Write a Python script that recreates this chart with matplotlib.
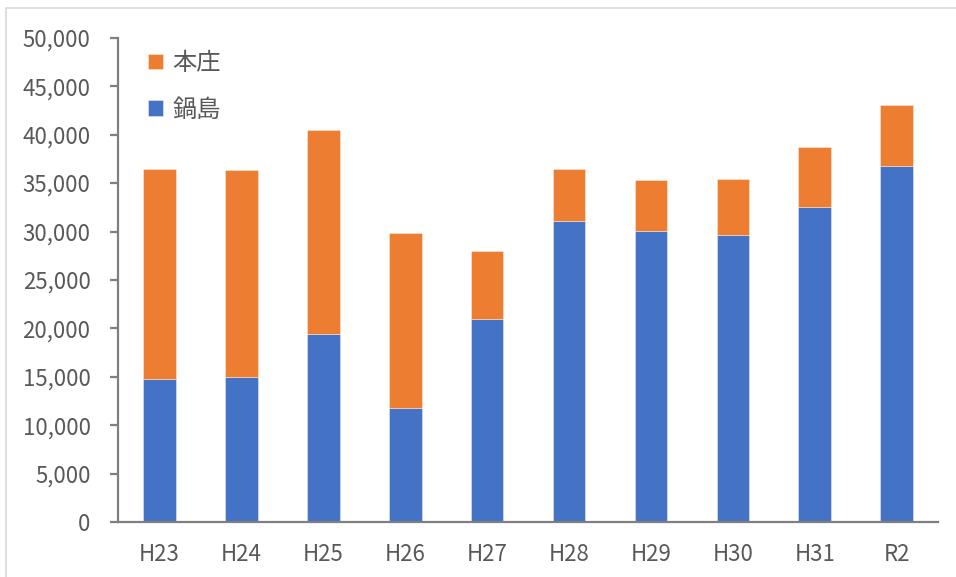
import numpy as np
import matplotlib.pyplot as plt
from matplotlib.patches import Rectangle

plt.rcParams['font.family'] = ['Noto Sans CJK JP', 'DejaVu Sans']

years = ['H23', 'H24', 'H25', 'H26', 'H27', 'H28', 'H29', 'H30', 'H31', 'R2']
nabeshima = [14800, 15000, 19400, 11800, 21000, 31100, 30100, 29600, 32500, 36800]
honjo = [21700, 21300, 21100, 18000, 7000, 5300, 5200, 5800, 6200, 6300]

BLUE = '#4472C4'
ORANGE = '#ED7D31'
GREY = '#7F7F7F'
TEXT = '#595959'

fig = plt.figure(figsize=(9.56, 5.77), dpi=100)
ax = fig.add_axes([0.1238, 0.0948, 0.8571, 0.8399])

# outer chart frame (runs off the right and bottom edges)
fig.patches.append(Rectangle((6 / 956, -0.1), 1.2, 1.1 - 8 / 577,
                             transform=fig.transFigure, fill=False,
                             edgecolor='#D9D9D9', linewidth=1.2))

x = np.arange(len(years))
w = 0.40
edge = (1, 1, 1, 0.45)
b1 = ax.bar(x, nabeshima, w, color=BLUE, edgecolor=edge, linewidth=0.6, label='鍋島')
b2 = ax.bar(x, honjo, w, bottom=nabeshima, color=ORANGE, edgecolor=edge,
            linewidth=0.6, label='本庄')

ax.set_xlim(-0.5, len(years) - 0.5)
ax.set_ylim(0, 50000)
ax.set_yticks(np.arange(0, 50001, 5000))
ax.set_yticklabels([f'{v:,}' for v in range(0, 50001, 5000)])
ax.set_xticks(x)
ax.set_xticklabels(years)

for s in ['top', 'right']:
    ax.spines[s].set_visible(False)
for s in ['left', 'bottom']:
    ax.spines[s].set_color(GREY)
    ax.spines[s].set_linewidth(1.6)

ax.tick_params(axis='y', length=6, width=1.6, color=GREY, labelcolor=TEXT,
               labelsize=16, pad=14)
ax.tick_params(axis='x', length=0, labelcolor=TEXT, labelsize=16, pad=15)

ax.legend([b2, b1], ['本庄', '鍋島'], loc='upper left', bbox_to_anchor=(0.01, 1.02),
          frameon=False, fontsize=17.5, handlelength=0.6, handleheight=0.6,
          handletextpad=0.4, labelspacing=0.85, labelcolor=TEXT)

fig.savefig('out.png', dpi=100)
